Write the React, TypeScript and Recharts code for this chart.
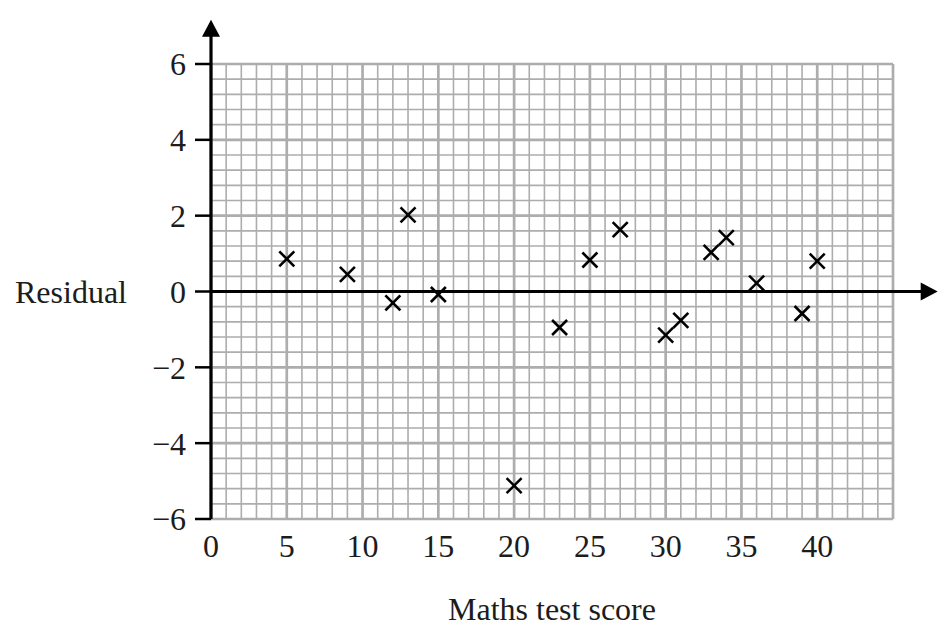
import React from 'react';
import { ScatterChart, Scatter, XAxis, YAxis, ReferenceLine, Label } from 'recharts';

const scores = [5, 9, 12, 13, 15, 20, 23, 25, 27, 30, 31, 33, 34, 36, 39, 40];
const residuals = [0.86, 0.45, -0.3, 2.02, -0.08, -5.12, -0.95, 0.83, 1.63, -1.15, -0.76, 1.03, 1.42, 0.22, -0.58, 0.8];
const xTicks = [0, 5, 10, 15, 20, 25, 30, 35, 40];
const yTicks = [-6, -4, -2, 0, 2, 4, 6];
const xMinorStep = 1;
const yMinorStep = 0.4;

const data = scores.map((s, i) => ({ x: s, y: residuals[i] }));

const xGrid: { v: number; major: boolean }[] = [];
for (let i = 0; i <= 45; i++) {
  xGrid.push({ v: i * xMinorStep, major: i % 5 === 0 });
}
const yGrid: { v: number; major: boolean }[] = [];
for (let i = 0; i <= 30; i++) {
  yGrid.push({ v: Math.round((-6 + i * yMinorStep) * 100) / 100, major: i % 5 === 0 });
}

const FONT = '"Liberation Serif", "Times New Roman", serif';
const TEXT = '#1c1c1c';
const GRID = '#adadad';
const FS = 32;

const fmt = (v: number) => (v < 0 ? '\u2212' + Math.abs(v) : String(v));

const Cross = (props: any) => {
  const { cx, cy } = props;
  const r = 7.5;
  return (
    <g>
      <line x1={cx - r} y1={cy - r} x2={cx + r} y2={cy + r} stroke="#000" strokeWidth={2.6} />
      <line x1={cx - r} y1={cy + r} x2={cx + r} y2={cy - r} stroke="#000" strokeWidth={2.6} />
    </g>
  );
};

const ArrowLine = (props: any) => {
  const { x1, y1, x2, y2 } = props;
  const len = 17;
  const half = 9;
  const dx = x2 - x1;
  const dy = y2 - y1;
  const d = Math.sqrt(dx * dx + dy * dy) || 1;
  const ux = dx / d;
  const uy = dy / d;
  const bx = x2 - ux * len;
  const by = y2 - uy * len;
  const px = -uy;
  const py = ux;
  return (
    <g>
      <line x1={x1} y1={y1} x2={bx + ux} y2={by + uy} stroke="#000" strokeWidth={3.2} />
      <polygon
        points={`${x2},${y2} ${bx + px * half},${by + py * half} ${bx - px * half},${by - py * half}`}
        fill="#000"
      />
    </g>
  );
};

export default function App() {
  return (
    <div style={{ position: 'absolute', left: 0, top: 0, width: 940, height: 636, background: '#fff' }}>
      <ScatterChart width={940} height={636} margin={{ top: 64, right: 47, bottom: 0, left: 0 }}>
        <XAxis
          type="number"
          dataKey="x"
          domain={[0, 45]}
          ticks={xTicks}
          allowDataOverflow
          axisLine={false}
          tickLine={false}
          tickSize={0}
          tickMargin={15}
          height={117}
          interval={0}
          tick={{ fontFamily: FONT, fontSize: FS, fill: TEXT }}
        >
          <Label
            value="Maths test score"
            position="insideBottom"
            offset={16}
            style={{ fontFamily: FONT, fontSize: FS, fill: TEXT }}
          />
        </XAxis>
        <YAxis
          type="number"
          dataKey="y"
          domain={[-6, 6]}
          ticks={yTicks}
          allowDataOverflow
          axisLine={false}
          tickLine={{ stroke: '#000', strokeWidth: 2.5 }}
          tickSize={16}
          tickMargin={9}
          width={211}
          interval={0}
          tickFormatter={fmt}
          tick={{ fontFamily: FONT, fontSize: FS, fill: TEXT }}
        >
          <Label
            value="Residual"
            position="insideLeft"
            offset={15}
            style={{ fontFamily: FONT, fontSize: FS, fill: TEXT, textAnchor: 'start' }}
          />
        </YAxis>
        {xGrid.map((g) => (
          <ReferenceLine
            key={'x' + g.v}
            x={g.v}
            stroke={GRID}
            strokeWidth={g.major ? 2.7 : 1.6}
            ifOverflow="visible"
          />
        ))}
        {yGrid.map((g) => (
          <ReferenceLine
            key={'y' + g.v}
            y={g.v}
            stroke={GRID}
            strokeWidth={g.major ? 2.7 : 1.6}
            ifOverflow="visible"
          />
        ))}
        <ReferenceLine
          segment={[{ x: 0, y: -6 }, { x: 0, y: 7.17 }]}
          ifOverflow="visible"
          shape={ArrowLine}
        />
        <ReferenceLine
          segment={[{ x: 0, y: 0 }, { x: 47.95, y: 0 }]}
          ifOverflow="visible"
          shape={ArrowLine}
        />
        <Scatter data={data} shape={Cross} isAnimationActive={false} />
      </ScatterChart>
    </div>
  );
}
